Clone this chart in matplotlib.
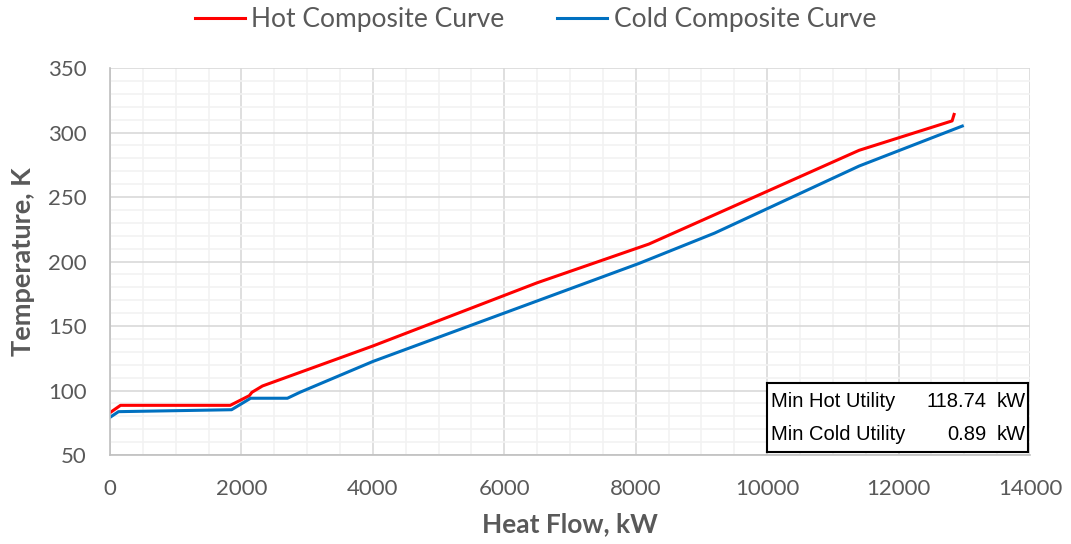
import matplotlib.pyplot as plt
from matplotlib.ticker import MultipleLocator

# hot composite curve (heat flow kW, temperature K)
hot_q = [0, 160, 1830, 2120, 2160, 2320, 4000, 6500, 8200, 11400, 12815, 12845]
hot_t = [82.8, 88.5, 88.5, 96, 98.6, 103.5, 134.5, 183.5, 213.5, 286.2, 309, 314]

# cold composite curve
cold_q = [0, 130, 1850, 2140, 2700, 2890, 4000, 8050, 9200, 11400, 12970]
cold_t = [79.2, 83.6, 85.1, 94, 94, 98.6, 122.5, 198.5, 222, 274, 305]

min_hot = "118.74"
min_cold = "0.89"

grey = "#595959"
plt.rcParams['font.family'] = ['Lato', 'DejaVu Sans']

fig = plt.figure(figsize=(10.71, 5.44), dpi=100)
ax = fig.add_axes([0.1027, 0.1636, 0.859, 0.7114])

ax.plot(hot_q, hot_t, color="#ff0000", lw=2.2, label="Hot Composite Curve")
ax.plot(cold_q, cold_t, color="#0070c0", lw=2.2, label="Cold Composite Curve")

ax.set_xlim(0, 14000)
ax.set_ylim(50, 350)
ax.xaxis.set_major_locator(MultipleLocator(2000))
ax.xaxis.set_minor_locator(MultipleLocator(500))
ax.yaxis.set_major_locator(MultipleLocator(50))
ax.yaxis.set_minor_locator(MultipleLocator(10))
ax.grid(which="major", color="#d9d9d9", lw=1.2)
ax.grid(which="minor", color="#f2f2f2", lw=1.2)
ax.set_axisbelow(True)
ax.tick_params(which="both", length=0, labelsize=16, labelcolor=grey)
ax.tick_params(axis="x", pad=17)
ax.tick_params(axis="y", pad=17)
for s in ["top", "right"]:
    ax.spines[s].set_visible(False)
for s in ["left", "bottom"]:
    ax.spines[s].set_color("#bfbfbf")
    ax.spines[s].set_linewidth(1.2)

ax.set_xlabel("Heat Flow, kW", fontsize=19, fontweight="bold", color=grey, labelpad=10)
ax.set_ylabel("Temperature, K", fontsize=19.5, fontweight="bold", color=grey, labelpad=9.5)

leg = fig.legend(loc="upper center", bbox_to_anchor=(0.5, 1.03), ncol=2, frameon=False,
                 fontsize=19, handlelength=1.9, handletextpad=0.25, columnspacing=2.0)
for t in leg.get_texts():
    t.set_color(grey)

# utility summary box
box = fig.add_axes([767 / 1071, 1 - 452 / 544, 261 / 1071, 69 / 544])
box.set_xticks([])
box.set_yticks([])
for s in box.spines.values():
    s.set_color("black")
    s.set_linewidth(1.5)
bf = dict(family="Liberation Sans", fontsize=14.5, color="black", va="center")
box.text(0.015, 0.73, "Min Hot Utility", ha="left", **bf)
box.text(0.84, 0.73, min_hot, ha="right", **bf)
box.text(0.99, 0.73, "kW", ha="right", **bf)
box.text(0.015, 0.26, "Min Cold Utility", ha="left", **bf)
box.text(0.84, 0.26, min_cold, ha="right", **bf)
box.text(0.99, 0.26, "kW", ha="right", **bf)

fig.savefig("out.png", dpi=100)
